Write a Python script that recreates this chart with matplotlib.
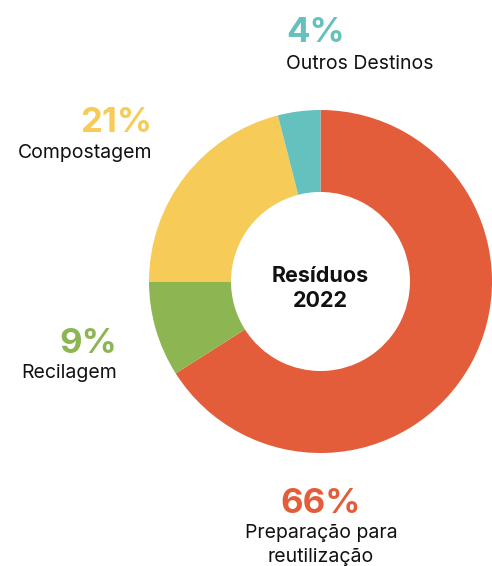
import matplotlib

matplotlib.use("Agg")
import matplotlib.pyplot as plt

# Destino dos resíduos 2022 (%)
labels = ["Preparação para\nreutilização", "Recilagem", "Compostagem", "Outros Destinos"]
shares = [66, 9, 21, 4]
colors = ["#E35D3A", "#8DB652", "#F7CB57", "#65C1BE"]

W, H = 492, 566
plt.rcParams["font.family"] = ["Inter", "DejaVu Sans"]

fig = plt.figure(figsize=(W / 100, H / 100), dpi=100)
ax = fig.add_axes([0, 0, 1, 1])

cx, cy, r = 320.5, H - 281.5, 171.5
ax.pie(shares, colors=colors, startangle=90, counterclock=False,
       radius=r, center=(cx, cy), frame=True,
       wedgeprops=dict(width=r - 89.5, linewidth=0))
ax.set_xlim(0, W)
ax.set_ylim(0, H)
ax.set_aspect("equal")
ax.axis("off")


def y(px):
    # pixel row (from top) -> data y
    return H - px


# centre label
ax.text(cx, y(282), "Resíduos", ha="center", va="baseline",
        fontsize=15.5, fontweight="bold", color="#111111")
ax.text(cx, y(307), "2022", ha="center", va="baseline",
        fontsize=15.5, fontweight="bold", color="#111111")

# value + label annotations: x anchor, alignment, pct baseline, label baselines
spots = [
    (321, "center", 513, (538, 562)),
    (117, "right", 353, (378,)),
    (152, "right", 132, (158,)),
    (286, "left", 42, (69,)),
]
for (x, ha, yp, yls), lab, val, col in zip(spots, labels, shares, colors):
    ax.text(x, y(yp), f"{val}%", ha=ha, va="baseline", fontsize=25,
            fontweight="bold", color=col)
    for line, yl in zip(lab.split("\n"), yls):
        ax.text(x, y(yl), line, ha=ha, va="baseline", fontsize=14,
                color="#111111")

fig.savefig("out.png", dpi=100)
